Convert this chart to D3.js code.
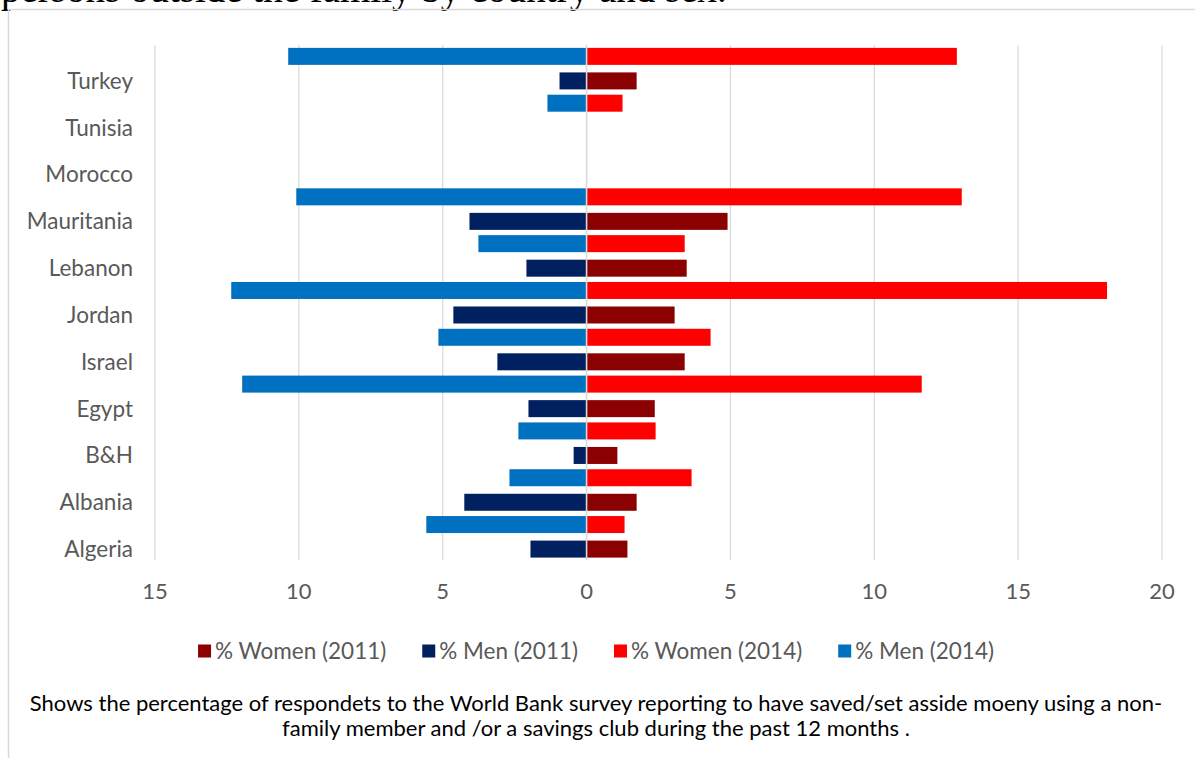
<!DOCTYPE html>
<html>
<head>
<meta charset="utf-8">
<script src="https://cdn.jsdelivr.net/npm/d3@7"></script>
<style>
  html, body { margin: 0; padding: 0; background: #fff; }
  svg { display: block; }
</style>
</head>
<body>
<svg id="chart" width="1195" height="758"></svg>
<script>
// Countries, bottom to top
const categories = ["Algeria", "Albania", "B&H", "Egypt", "Israel", "Jordan", "Lebanon", "Mauritania", "Morocco", "Tunisia", "Turkey"];

// Share of respondents (%) — men plotted as negative values to the left of zero
const women2011 = [1.42, 1.74, 1.07, 2.37, 3.41, 3.06, 3.48, 4.90, null, null, 1.74];
const men2011   = [-1.95, -4.25, -0.45, -2.02, -3.10, -4.63, -2.09, -4.07, null, null, -0.94];
const women2014 = [1.32, 3.65, 2.40, 11.65, 4.31, 18.09, 3.41, 13.04, null, 1.25, 12.87];
const men2014   = [-5.57, -2.68, -2.37, -11.97, -5.15, -12.35, -3.76, -10.09, null, -1.36, -10.37];

const xTicks = [-15, -10, -5, 0, 5, 10, 15, 20];
const seriesNames = ["% Women (2011)", "% Men (2011)", "% Women (2014)", "% Men (2014)"];
const seriesColors = ["#8B0000", "#002060", "#FF0000", "#0070C0"];

const titleText = "persons outside the family by country and sex.";
const noteLines = [
  "Shows the percentage of respondets to the World Bank survey reporting to have saved/set asside moeny using a non-",
  "family member and /or a savings club during the past 12 months ."
];

const FONT = "Lato, 'Open Sans', sans-serif";
const svg = d3.select("#chart");

// Heading text running off the top edge
svg.append("text")
  .attr("x", 1).attr("y", 1.5)
  .attr("font-family", "'Liberation Serif', 'Times New Roman', serif")
  .attr("font-size", 39)
  .attr("fill", "#000")
  .text(titleText);

// Chart frame
svg.append("path")
  .attr("d", "M8.5,758 V9.5 H1195")
  .attr("fill", "none")
  .attr("stroke", "#d9d9d9")
  .attr("stroke-width", 1.5);

const plotTop = 45, plotBottom = 560;
const x = d3.scaleLinear().domain([-15, 20]).range([155, 1162]);
const y = d3.scaleBand().domain(categories.slice().reverse()).range([plotTop, plotBottom]).padding(0);
const bw = y.bandwidth();
const barH = 17;
const off2014 = bw * 0.243, off2011 = bw * 0.767;

// Vertical gridlines
svg.append("g").selectAll("line")
  .data(xTicks.filter(t => t !== 0))
  .join("line")
  .attr("x1", d => x(d)).attr("x2", d => x(d))
  .attr("y1", plotTop).attr("y2", plotBottom)
  .attr("stroke", "#d9d9d9").attr("stroke-width", 1.2);

// Bars
const rows = categories.map((c, i) => ({ c, w11: women2011[i], m11: men2011[i], w14: women2014[i], m14: men2014[i] }));
const barSpecs = [
  { key: "w11", color: seriesColors[0], off: off2011 },
  { key: "m11", color: seriesColors[1], off: off2011 },
  { key: "w14", color: seriesColors[2], off: off2014 },
  { key: "m14", color: seriesColors[3], off: off2014 }
];
const gBars = svg.append("g");
barSpecs.forEach(s => {
  gBars.selectAll(null)
    .data(rows.filter(r => r[s.key] != null))
    .join("rect")
    .attr("x", r => Math.min(x(0), x(r[s.key])))
    .attr("width", r => Math.abs(x(r[s.key]) - x(0)))
    .attr("y", r => y(r.c) + s.off - barH / 2)
    .attr("height", barH)
    .attr("fill", s.color);
});

// Zero (category) axis line
svg.append("line")
  .attr("x1", x(0)).attr("x2", x(0))
  .attr("y1", plotTop).attr("y2", plotBottom)
  .attr("stroke", "#d9d9d9").attr("stroke-width", 1.6);

// Value axis labels (absolute values)
svg.append("g").selectAll("text")
  .data(xTicks)
  .join("text")
  .attr("x", d => x(d)).attr("y", 599)
  .attr("text-anchor", "middle")
  .attr("font-family", FONT).attr("font-size", 22)
  .attr("fill", "#595959")
  .text(d => Math.abs(d));

// Category labels
svg.append("g").selectAll("text")
  .data(categories)
  .join("text")
  .attr("x", 133)
  .attr("y", d => y(d) + off2011)
  .attr("dy", "0.35em")
  .attr("text-anchor", "end")
  .attr("font-family", FONT).attr("font-size", 22.5)
  .attr("fill", "#595959")
  .text(d => d);

// Legend
const legend = svg.append("g");
const sq = 13, sqGap = 4, itemGap = 36, legendY = 651;
const items = seriesNames.map((n, i) => {
  const g = legend.append("g");
  g.append("rect").attr("width", sq).attr("height", sq).attr("y", legendY - sq / 2).attr("fill", seriesColors[i]);
  const t = g.append("text")
    .attr("x", sq + sqGap).attr("y", legendY).attr("dy", "0.35em")
    .attr("font-family", FONT).attr("font-size", 22.5)
    .attr("fill", "#595959").text(n);
  return { g, w: sq + sqGap + t.node().getComputedTextLength() };
});
const total = d3.sum(items, d => d.w) + itemGap * (items.length - 1);
let cx = 596 - total / 2;
items.forEach(it => { it.g.attr("transform", `translate(${cx},0)`); cx += it.w + itemGap; });

// Note beneath the chart
svg.append("g").selectAll("text")
  .data(noteLines)
  .join("text")
  .attr("x", 596)
  .attr("y", (d, i) => 711 + i * 25)
  .attr("text-anchor", "middle")
  .attr("font-family", FONT).attr("font-size", 22)
  .attr("fill", "#000")
  .text(d => d);
</script>
</body>
</html>
